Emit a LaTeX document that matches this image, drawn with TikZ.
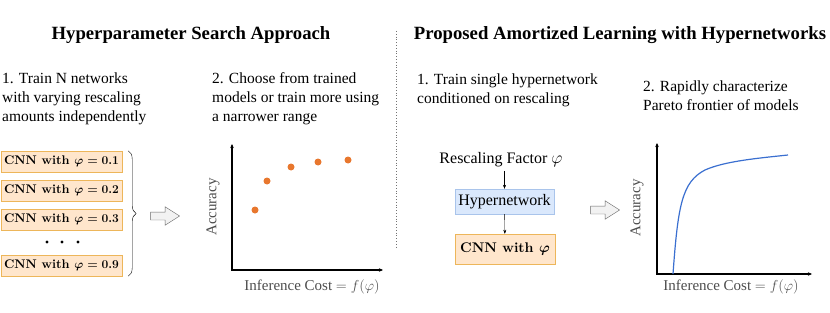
\documentclass[tikz,border=0pt]{standalone}
\usepackage{fontspec}
\setmainfont{Liberation Serif}
\newfontfamily\lmbold{lmroman10}[Extension=.otf, UprightFont=*-bold]
\usetikzlibrary{arrows.meta, positioning, shapes.arrows, decorations.pathreplacing}
\definecolor{boxorange}{HTML}{FFE6CC}
\definecolor{lineorange}{HTML}{EDB65A}
\definecolor{boxblue}{HTML}{DAE8FC}
\definecolor{lineblue}{HTML}{A9C4EB}
\definecolor{dotorange}{HTML}{E8772E}
\definecolor{curveblue}{HTML}{3A6FD0}

\begin{document}
\begin{tikzpicture}[x=1pt, y=-1pt,
  title/.style={font=\fontsize{18.7}{22}\selectfont\bfseries},
  steptext/.style={anchor=north west, inner sep=0pt, align=left,
  font=\fontsize{15.5}{19}\selectfont},
  cnnbox/.style={draw=lineorange, fill=boxorange, minimum width=121pt,
  minimum height=21pt, inner sep=1pt, font=\fontsize{12.5}{14}\selectfont\lmbold\boldmath},
  hollow/.style={single arrow, draw=black!60, fill=black!5, minimum height=29pt,
  inner sep=3.75pt, single arrow head extend=5.25pt, single arrow tip angle=65},
  axis/.style={{Stealth[length=4pt, width=3.5pt]}-{Stealth[length=4pt, width=3.5pt]}, line width=1.3pt},
  axlabel/.style={font=\fontsize{15}{18}\selectfont, text=black!70},
  pt/.style={circle, fill=dotorange, inner sep=0pt, minimum size=7pt},
  arr/.style={-{Stealth[length=4pt, width=3pt]}, thin}
]
\useasboundingbox (0,0) rectangle (830,313);

\node[title] (t1) at (191,35) {Hyperparameter Search Approach};
\node[title] (t2) at (620,35) {Proposed Amortized Learning with Hypernetworks};
\coordinate (sepa) at (396,31);
\coordinate (sepb) at (396,247);
\draw[black!55, dotted, line width=0.8pt] (sepa) -- (sepb);

\node[steptext] (s1) at (2,72.5) {1. Train N networks\\with varying rescaling\\amounts independently};
\node[steptext] (s2) at (212,72.5) {2. Choose from trained\\models or train more using\\a narrower range};
\node[steptext] (s3) at (417,73.5) {1. Train single hypernetwork\\conditioned on rescaling};
\node[steptext] (s4) at (643,81) {2. Rapidly characterize\\Pareto frontier of models};

\node[cnnbox] (c1) at (61.5,161.5) {CNN with $\varphi=0.1$};
\node[cnnbox] (c2) at (61.5,190.5) {CNN with $\varphi=0.2$};
\node[cnnbox] (c3) at (61.5,219.5) {CNN with $\varphi=0.3$};
\node[cnnbox] (c9) at (61.5,265.5) {CNN with $\varphi=0.9$};
\foreach \x [count=\i] in {47,62,78}
  \node[circle, fill=black, inner sep=0pt, minimum size=3.2pt] (d\i) at (\x,242) {};
\draw[decorate, decoration={brace, amplitude=8pt}, thin]
  ([xshift=6pt]c1.north east) -- ([xshift=6pt]c9.south east);
\node[hollow] (h1) at (162,216) {};

\coordinate (ao) at (232,270);
\coordinate (ay) at (232,144);
\coordinate (ax) at (383,270);
\draw[axis] (ay) -- (ao) -- (ax);
\node[axlabel, rotate=90] (acc1) at (213,207) {Accuracy};
\node[axlabel] (cost1) at (312,287) {Inference Cost $=f(\varphi)$};
\foreach \x/\y [count=\i] in {255/210, 267/181, 291/167, 318/162, 348/160}
  \node[pt] (p\i) at (\x,\y) {};

\node[font=\fontsize{16}{19}\selectfont] (rf) at (501,160) {Rescaling Factor $\varphi$};
\node[draw=lineblue, fill=boxblue, minimum width=99pt, minimum height=25pt,
  font=\fontsize{16}{19}\selectfont] (hyper) at (504.5,201.5) {Hypernetwork};
\node[draw=lineorange, fill=boxorange, minimum width=100pt, minimum height=30pt,
  font=\fontsize{14}{17}\selectfont\lmbold\boldmath] (cnn) at (505,249) {CNN with $\varphi$};
\draw[arr] (rf.south -| hyper.north) -- (hyper.north);
\draw[arr] (hyper) -- (cnn);
\node[hollow] (h2) at (602,210) {};

\coordinate (bo) at (657,274);
\coordinate (by) at (657,143);
\coordinate (bx) at (812,274);
\draw[axis] (by) -- (bo) -- (bx);
\node[axlabel, rotate=90] (acc2) at (637,208) {Accuracy};
\node[axlabel] (cost2) at (731,287) {Inference Cost $=f(\varphi)$};
\draw[curveblue, line width=1.2pt] (673,274) .. controls (678,205) and (682,182) .. (705,170)
  .. controls (725,161) and (760,158) .. (788,155);
\end{tikzpicture}
\end{document}
